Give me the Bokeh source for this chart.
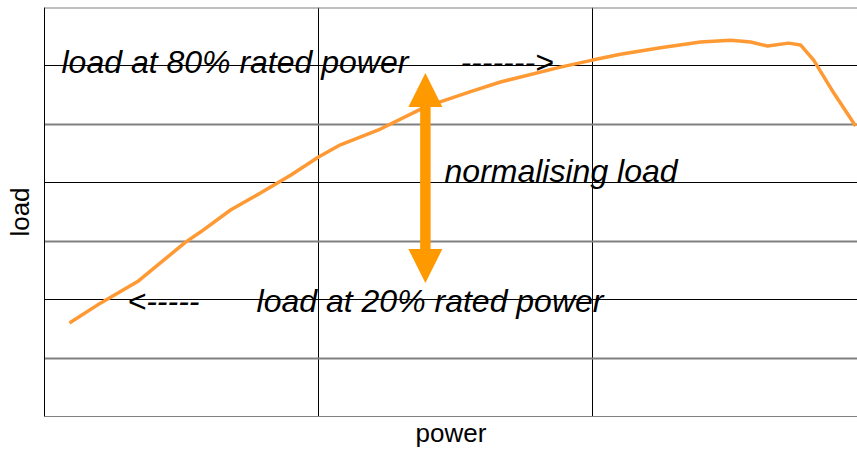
from bokeh.plotting import figure
from bokeh.models import Range1d, FixedTicker, Grid, Span, Label, Arrow, NormalHead
from bokeh.embed import file_html
from bokeh.resources import INLINE

# curve: load against power (grid units)
power = [0.091, 0.204, 0.343, 0.515, 0.569, 0.679, 0.788, 0.898, 1.0, 1.08,
         1.226, 1.39, 1.555, 1.664, 1.883, 2.0, 2.102, 2.248, 2.394, 2.504,
         2.577, 2.639, 2.715, 2.759, 2.807, 2.88, 2.96]
load = [1.60, 1.94, 2.32, 2.985, 3.157, 3.534, 3.825, 4.13, 4.44, 4.65,
        4.92, 5.30, 5.56, 5.725, 5.98, 6.10, 6.20, 6.31, 6.41, 6.44,
        6.41, 6.34, 6.39, 6.36, 6.10, 5.54, 4.97]

# annotation texts and anchors (data units)
label_texts = ["load at 80% rated power", "------->", "normalising load",
               "<-----", "load at 20% rated power"]
label_x = [0.062, 1.518, 1.460, 0.303, 0.774]
label_y = [6.07, 6.07, 4.21, 1.98, 1.98]

arrow_x = 1.39
arrow_top = 5.88
arrow_bottom = 2.285

gray_lines = [1, 3, 5]
black_lines = [2, 4, 6]
vert_lines = [1, 2]

FONT = "Liberation Sans"

p = figure(width=857, height=452, output_backend="svg", toolbar_location=None,
           x_range=Range1d(0, 2.967), y_range=Range1d(0, 7),
           min_border_left=44, min_border_right=0, min_border_top=7, min_border_bottom=36)
p.outline_line_color = None
p.background_fill_color = "white"
p.border_fill_color = "white"

# axes
for ax in (p.xaxis, p.yaxis):
    ax.ticker = FixedTicker(ticks=[])
    ax.major_tick_out = 0
    ax.major_tick_in = 0
    ax.minor_tick_out = 0
    ax.minor_tick_in = 0
    ax.major_label_standoff = 0
    ax.axis_label_text_font = FONT
    ax.axis_label_text_font_style = "normal"
    ax.axis_label_text_font_size = "26px"
    ax.axis_label_text_color = "black"
p.xaxis.axis_label = "power"
p.yaxis.axis_label = "load"
p.xaxis.axis_line_color = "#808080"
p.yaxis.axis_line_color = "black"
p.xaxis.axis_label_standoff = 1
p.yaxis.axis_label_standoff = 10

p.xgrid.visible = False
p.ygrid.visible = False
p.add_layout(Grid(dimension=0, ticker=FixedTicker(ticks=vert_lines),
                  grid_line_color="black", grid_line_width=1))
p.add_layout(Grid(dimension=1, ticker=FixedTicker(ticks=gray_lines),
                  grid_line_color="#808080", grid_line_width=2))
p.add_layout(Grid(dimension=1, ticker=FixedTicker(ticks=black_lines),
                  grid_line_color="black", grid_line_width=1))
p.add_layout(Span(location=7, dimension="width", line_color="#808080", line_width=2))

p.line(power, load, line_color="#FF9933", line_width=3.5)

p.add_layout(Arrow(x_start=arrow_x, y_start=arrow_bottom + 0.5, x_end=arrow_x, y_end=arrow_top,
                   line_color="#FF9900", line_width=10,
                   end=NormalHead(size=34, fill_color="#FF9900", line_color="#FF9900", line_width=0)))
p.add_layout(Arrow(x_start=arrow_x, y_start=arrow_top - 0.5, x_end=arrow_x, y_end=arrow_bottom,
                   line_color="#FF9900", line_width=10,
                   end=NormalHead(size=34, fill_color="#FF9900", line_color="#FF9900", line_width=0)))

for t, lx, ly in zip(label_texts, label_x, label_y):
    p.add_layout(Label(x=lx, y=ly, text=t, text_font=FONT, text_font_style="italic",
                       text_font_size="32px", text_color="black",
                       text_baseline="alphabetic", text_align="left"))

open("out.html", "w").write(file_html(p, INLINE))
